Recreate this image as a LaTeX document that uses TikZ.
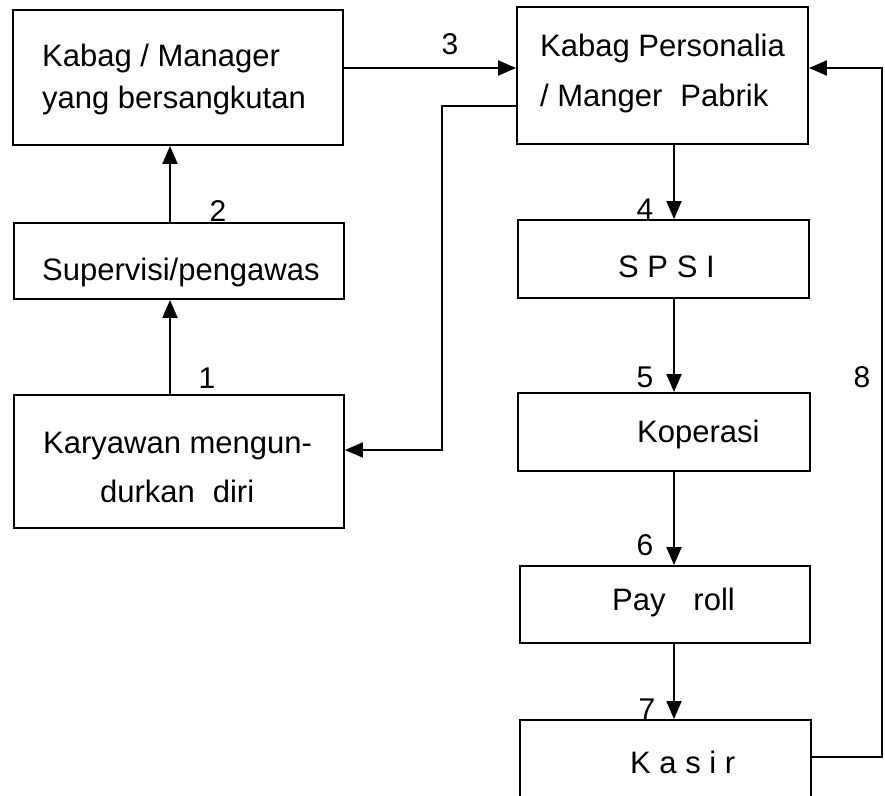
\documentclass[tikz,border=0pt]{standalone}
\usepackage{fontspec}
\setmainfont{Liberation Sans}
\usetikzlibrary{arrows.meta}
\tikzset{
  box/.style={draw=black, line width=1.9pt, rectangle, inner sep=0pt, fill=none},
  conn/.style={draw=black, line width=1.9pt},
  arr/.style={conn, -{Triangle[length=18pt,width=15pt]}},
  txt/.style={inner sep=0pt, anchor=base west, font=\fontsize{31}{37}\selectfont},
  num/.style={inner sep=0pt, anchor=center, font=\fontsize{30}{36}\selectfont}
}
\newcommand\mkbox[5]{\node[box, minimum width={#4-#2}, minimum height={#5-#3}] (#1) at ({(#2+#4)/2},{(#3+#5)/2}) {};}
\begin{document}
\begin{tikzpicture}[x=1pt,y=-1pt]
\useasboundingbox (0,0) rectangle (885,795);
\clip (0,0) rectangle (885,795);
\fill[white] (0,0) rectangle (885,795);
% boxes
\mkbox{A}{13}{10}{343}{145}
\mkbox{B}{517}{7}{808}{144}
\mkbox{S}{14}{223}{344}{299}
\mkbox{K}{14}{395}{344}{528}
\mkbox{P}{518}{220}{809}{298}
\mkbox{Ko}{518}{393}{810}{471}
\mkbox{Pr}{520}{566}{810}{643}
\mkbox{Ks}{520}{720}{811}{830}
% texts
\node[txt] (tA1) at (42,66) {Kabag / Manager};
\node[txt] (tA2) at (42,108) {yang bersangkutan};
\node[txt] (tB1) at (540,56) {Kabag Personalia};
\node[txt] (tB2) at (540,106) {/ Manger\hspace{0.3em} Pabrik};
\node[txt] (tS) at (42,280) {Supervisi/pengawas};
\node[txt] (tK1) at (43,453) {Karyawan mengun-};
\node[txt] (tK2) at (100,502) {durkan\hspace{0.3em} diri};
\node[txt] (tP) at (618,277) {S P S I};
\node[txt] (tKo) at (637,442) {Koperasi};
\node[txt] (tPr) at (612,610) {Pay\hspace{0.9em}roll};
\node[txt] (tKs) at (630,773) {K a s i r};
% numbers
\node[num] (n1) at (207,378) {1};
\node[num] (n2) at (218,211) {2};
\node[num] (n3) at (450,44) {3};
\node[num] (n4) at (645,209) {4};
\node[num] (n5) at (645,377) {5};
\node[num] (n6) at (645,545) {6};
\node[num] (n7) at (647,709) {7};
\node[num] (n8) at (862,377) {8};
% helper coordinates
\coordinate (y68) at (0,68);
\coordinate (x170) at (170,0);
\coordinate (x674) at (674,0);
\coordinate (c1) at (442,106);
\coordinate (c2) at (442,450);
\coordinate (r1) at (882,757);
\coordinate (r2) at (882,68);
% connectors
\draw[arr] (A.east |- y68) -- (B.west |- y68);
\draw[arr] (S.north -| x170) -- (A.south -| x170);
\draw[arr] (K.north -| x170) -- (S.south -| x170);
\draw[arr] (B.west |- c1) -- (c1) -- (c2) -- (K.east |- c2);
\draw[arr] (B.south -| x674) -- (P.north -| x674);
\draw[arr] (P.south -| x674) -- (Ko.north -| x674);
\draw[arr] (Ko.south -| x674) -- (Pr.north -| x674);
\draw[arr] (Pr.south -| x674) -- (Ks.north -| x674);
\draw[arr] (Ks.east |- r1) -- (r1) -- (r2) -- (B.east |- r2);
\end{tikzpicture}
\end{document}
